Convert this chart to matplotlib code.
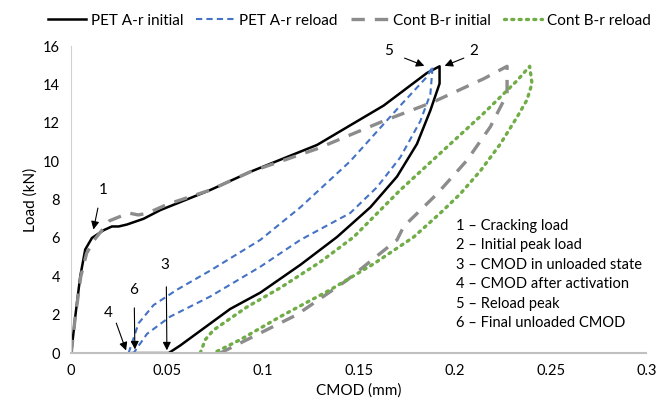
import matplotlib.pyplot as plt

plt.rcParams['font.family'] = ['Lato', 'DejaVu Sans']

# PET A-r initial loading + unloading (CMOD mm, load kN)
pet_init_x = [0, 0.0021, 0.0047, 0.0073, 0.0108, 0.0168, 0.0212, 0.0247, 0.029, 0.0377,
              0.0464, 0.0551, 0.0725, 0.0934, 0.1282, 0.1629, 0.1855, 0.1921,
              0.1921, 0.1873, 0.1803, 0.1699, 0.156, 0.1386, 0.1195, 0.0986, 0.0829,
              0.0569, 0.0508, 0.0317]
pet_init_y = [0, 1.9, 4.0, 5.4, 6.0, 6.4, 6.6, 6.6, 6.7, 7.0,
              7.45, 7.8, 8.5, 9.45, 10.85, 12.9, 14.6, 14.95,
              14.05, 12.65, 10.9, 9.2, 7.6, 6.05, 4.6, 3.15, 2.3,
              0.4, 0, 0]

# PET A-r reload loop
pet_rel_x = [0.0299, 0.0351, 0.0429, 0.0551, 0.0725, 0.0986, 0.1195, 0.1455, 0.1716, 0.1855, 0.1885,
             0.1873, 0.1821, 0.1716, 0.1595, 0.1455, 0.1195, 0.0986, 0.0725, 0.0516, 0.0395, 0.0325]
pet_rel_y = [0, 1.55, 2.5, 3.3, 4.3, 5.9, 7.6, 10.0, 12.9, 14.4, 14.95,
             13.5, 12.1, 10.2, 8.65, 7.3, 5.9, 4.5, 2.95, 1.9, 1.0, 0]

# Cont B-r initial loading + unloading
cont_init_x = [0, 0.002, 0.005, 0.008, 0.012, 0.016, 0.02, 0.025, 0.03, 0.035, 0.04, 0.05,
               0.0725, 0.0934, 0.1282, 0.1629, 0.189, 0.2151, 0.2273,
               0.2273, 0.2186, 0.2064, 0.1908, 0.1734, 0.1699, 0.1438, 0.1177, 0.0777]
cont_init_y = [0, 1.8, 4.0, 5.2, 5.9, 6.4, 6.9, 7.1, 7.3, 7.2, 7.3, 7.75,
               8.5, 9.45, 10.65, 12.1, 13.1, 14.3, 14.95,
               13.5, 11.8, 10.05, 8.3, 6.6, 5.9, 3.8, 2.0, 0]

# Cont B-r reload loop
cont_rel_x = [0.0673, 0.0699, 0.0742, 0.0916, 0.109, 0.1299, 0.1473, 0.1716, 0.1977, 0.2151, 0.2325, 0.2391,
              0.2403, 0.2377, 0.2325, 0.2238, 0.2134, 0.2029, 0.1925, 0.1786, 0.1577, 0.1351, 0.109,
              0.0882, 0.0742]
cont_rel_y = [0, 0.7, 1.2, 2.4, 3.4, 4.75, 6.05, 8.5, 10.9, 12.5, 14.2, 14.95,
              14.05, 13.2, 12.3, 10.9, 9.5, 8.3, 7.3, 6.05, 4.65, 3.3, 1.9,
              0.7, 0]

# annotation numbers: label, text position, arrow tail, arrow head
ann_labels = ['1', '2', '3', '4', '5', '6']
ann_text = [(0.0168, 8.5), (0.2099, 15.74), (0.049, 4.6), (0.0195, 2.1), (0.1655, 15.74), (0.0325, 3.3)]
ann_tail = [(0.0142, 7.7), (0.2061, 15.43), (0.0496, 3.6), (0.023, 1.7), (0.1725, 15.43), (0.0329, 2.5)]
ann_head = [(0.0113, 6.3), (0.1934, 14.92), (0.0499, 0.0), (0.0291, 0.0), (0.1855, 14.92), (0.0332, 0.05)]

key_lines = ['1 \u2013 Cracking load', '2 \u2013 Initial peak load', '3 \u2013 CMOD in unloaded state',
             '4 \u2013 CMOD after activation', '5 \u2013 Reload peak', '6 \u2013 Final unloaded CMOD']

fig = plt.figure(figsize=(6.72, 4.12), dpi=100)
ax = fig.add_axes([0.106, 0.143, 0.856, 0.745])

ax.plot(pet_init_x, pet_init_y, color='black', lw=1.8, label='PET A-r initial')
ax.plot(pet_rel_x, pet_rel_y, color='#4472C4', lw=1.5, dashes=(3, 2), label='PET A-r reload')
ax.plot(cont_init_x, cont_init_y, color='#8c8c8c', lw=2.4, dashes=(4, 3), label='Cont B-r initial')
ax.plot(cont_rel_x, cont_rel_y, color='#70AD47', lw=2.4, dashes=(0.6, 1.6), dash_capstyle='round',
        label='Cont B-r reload')

for lab, tp, tl, hd in zip(ann_labels, ann_text, ann_tail, ann_head):
    ax.text(tp[0], tp[1], lab, fontsize=11, ha='center', va='center')
    ax.annotate('', xy=hd, xytext=tl,
                arrowprops=dict(arrowstyle='-|>', color='black', lw=0.8, mutation_scale=12))

ax.text(0.2008, 7.0, '\n'.join(key_lines), fontsize=10.5, va='top', ha='left', linespacing=1.5)

ax.set_xlim(0, 0.3)
ax.set_ylim(0, 16)
ax.set_xticks([0, 0.05, 0.1, 0.15, 0.2, 0.25, 0.3])
ax.set_xticklabels(['0', '0.05', '0.1', '0.15', '0.2', '0.25', '0.3'])
ax.set_yticks(range(0, 17, 2))
ax.tick_params(length=0, labelsize=10.5, pad=8)
for s in ['top', 'right']:
    ax.spines[s].set_visible(False)
ax.spines['left'].set_color('#d0d0d0')
ax.spines['bottom'].set_color('#c0c0c0')
ax.spines['bottom'].set_linewidth(1.5)
ax.set_xlabel('CMOD (mm)', fontsize=11)
ax.set_ylabel('Load (kN)', fontsize=11)

fig.legend(loc='upper center', bbox_to_anchor=(0.52, 1.0), ncol=4, frameon=False, fontsize=11,
           handlelength=2.5, columnspacing=0.85, handletextpad=0.3)

fig.savefig('out.png', dpi=100)
